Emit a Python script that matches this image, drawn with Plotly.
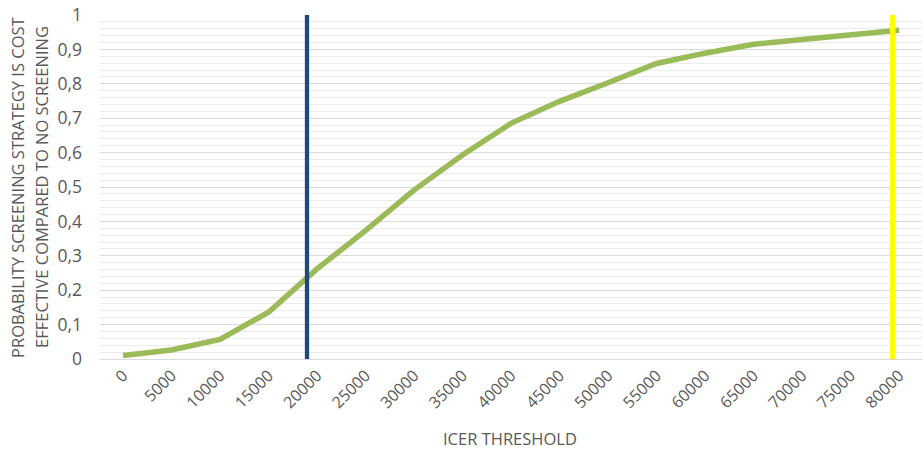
import plotly.graph_objects as go

# ICER thresholds (category axis) and probability of cost-effectiveness
thresholds = [0, 5000, 10000, 15000, 20000, 25000, 30000, 35000, 40000,
              45000, 50000, 55000, 60000, 65000, 70000, 75000, 80000]
probability = [0.010, 0.026, 0.057, 0.136, 0.262, 0.373, 0.491, 0.593, 0.685,
               0.749, 0.803, 0.859, 0.889, 0.915, 0.929, 0.942, 0.956]
tick_labels = [str(t) for t in thresholds]

# Reference thresholds shown as vertical markers
wtp_low = 20000
wtp_high = 80000

y_title_lines = ["PROBABILITY SCREENING STRATEGY IS COST",
                 "EFFECTIVE COMPARED TO NO SCREENING"]
x_title = "ICER THRESHOLD"

font_family = "Open Sans, Noto Sans, sans-serif"
grey = "#595959"

fig = go.Figure()

fig.add_trace(go.Scatter(
    x=thresholds, y=probability, mode="lines",
    line=dict(color="#9BBB59", width=5.5),
    showlegend=False, hoverinfo="x+y",
))

fig.add_trace(go.Scatter(
    x=[wtp_low, wtp_low], y=[0, 1], mode="lines", xaxis="x2",
    line=dict(color="#1F497D", width=4.3),
    showlegend=False,
))
fig.add_trace(go.Scatter(
    x=[wtp_high, wtp_high], y=[0, 1], mode="lines", xaxis="x2",
    line=dict(color="#FFFF00", width=5.5),
    showlegend=False,
))

title_font = dict(size=16.5, color=grey, family=font_family)

fig.update_layout(
    width=923, height=453,
    margin=dict(l=100, r=1, t=15, b=94),
    paper_bgcolor="white", plot_bgcolor="white",
    separators=",.",
    font=dict(family=font_family, color=grey),
    xaxis=dict(
        range=[-2371, 82371],
        tickmode="array", tickvals=thresholds, ticktext=tick_labels,
        tickangle=-45, tickfont=dict(size=16, color=grey),
        showgrid=False, zeroline=False,
        showline=True, linecolor="#d9d9d9", linewidth=1,
        ticks="", fixedrange=True,
    ),
    xaxis2=dict(
        overlaying="x", range=[-1205, 83001],
        visible=False, showgrid=False, zeroline=False,
    ),
    yaxis=dict(
        range=[0, 1], tickmode="linear", tick0=0, dtick=0.1,
        tickformat="~g", tickfont=dict(size=17.5, color=grey),
        showgrid=True, gridcolor="#d9d9d9", gridwidth=1,
        minor=dict(dtick=0.02, showgrid=True, gridcolor="#ebebeb", gridwidth=1),
        zeroline=False, showline=False,
        ticks="", ticklabelstandoff=17,
    ),
    annotations=[
        dict(
            text=y_title_lines[0],
            xref="paper", yref="paper", x=-0.101, y=0.5,
            xanchor="center", yanchor="middle", textangle=-90,
            showarrow=False, font=title_font,
        ),
        dict(
            text=y_title_lines[1],
            xref="paper", yref="paper", x=-0.0718, y=0.5,
            xanchor="center", yanchor="middle", textangle=-90,
            showarrow=False, font=title_font,
        ),
        dict(
            text=x_title,
            xref="paper", yref="paper", x=0.499, y=-0.2297,
            xanchor="center", yanchor="middle",
            showarrow=False, font=title_font,
        ),
    ],
)

fig.write_html("out.html")
